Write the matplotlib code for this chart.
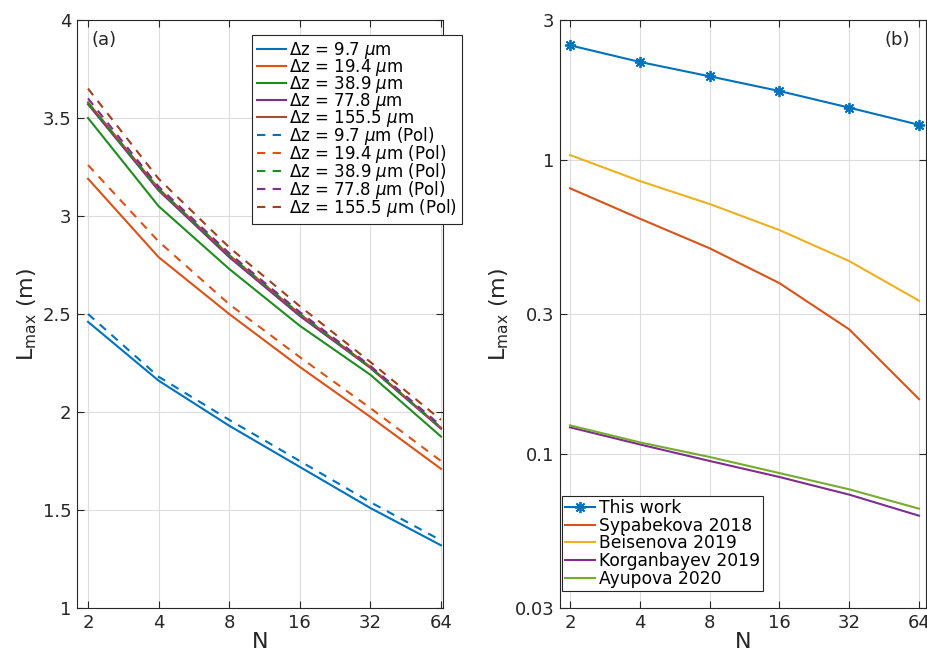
import numpy as np
import matplotlib
matplotlib.use("Agg")
import matplotlib.pyplot as plt
from matplotlib.ticker import FixedLocator, FixedFormatter, NullLocator

plt.rcParams['font.family'] = ['DejaVu Sans']
plt.rcParams['mathtext.fontset'] = 'dejavusans'

# Number of channels
N = [2, 4, 8, 16, 32, 64]
n_ticks = ["2", "4", "8", "16", "32", "64"]

# (a) Maximum length vs N for each spatial resolution
dz_labels = ["9.7", "19.4", "38.9", "77.8", "155.5"]
L_dz_97 = [2.46, 2.16, 1.93, 1.72, 1.51, 1.32]
L_dz_194 = [3.19, 2.79, 2.50, 2.23, 1.975, 1.71]
L_dz_389 = [3.50, 3.05, 2.73, 2.44, 2.19, 1.875]
L_dz_778 = [3.57, 3.13, 2.79, 2.49, 2.225, 1.915]
L_dz_1555 = [3.58, 3.14, 2.80, 2.50, 2.23, 1.92]

L_pol_97 = [2.50, 2.18, 1.96, 1.75, 1.54, 1.345]
L_pol_194 = [3.26, 2.87, 2.55, 2.28, 2.02, 1.75]
L_pol_389 = [3.575, 3.135, 2.80, 2.50, 2.225, 1.92]
L_pol_778 = [3.60, 3.15, 2.81, 2.51, 2.235, 1.93]
L_pol_1555 = [3.65, 3.19, 2.84, 2.54, 2.255, 1.96]

# (b) Comparison with earlier works
L_this_work = L_dz_97
L_sypabekova = [0.803, 0.633, 0.502, 0.382, 0.266, 0.154]
L_beisenova = [1.042, 0.850, 0.710, 0.579, 0.454, 0.333]
L_korganbayev = [0.1235, 0.108, 0.0949, 0.0837, 0.0729, 0.0618]
L_ayupova = [0.1254, 0.1098, 0.0979, 0.0863, 0.0760, 0.0653]
ref_labels = ["This work", "Sypabekova 2018", "Beisenova 2019",
              "Korganbayev 2019", "Ayupova 2020"]

c_blue = "#0072BD"
c_orange = "#D95319"
c_yellow = "#EDB120"
c_purple = "#7E2F8E"
c_lgreen = "#77AC30"
c_green = "#1E8C1E"
c_brown = "#A8502C"
c_brown_d = "#A0401C"
axis_col = "#262626"

fig = plt.figure(figsize=(9.28, 6.57), dpi=100)
ax1 = fig.add_axes([77/928, 49/657, 366/928, 588/657])
ax2 = fig.add_axes([560/928, 49/657, 366/928, 588/657])

lw = 1.5
solid_sets = [(L_dz_97, c_blue), (L_dz_194, c_orange), (L_dz_389, c_green),
              (L_dz_778, c_purple), (L_dz_1555, c_brown)]
dashed_sets = [(L_pol_97, c_blue), (L_pol_194, c_orange), (L_pol_389, c_green),
               (L_pol_778, c_purple), (L_pol_1555, c_brown_d)]

handles = []
for (vals, col), lab in zip(solid_sets, dz_labels):
    h, = ax1.plot(N, vals, color=col, lw=lw,
                  label=r"$\Delta$z = " + lab + r" $\mu$m")
    handles.append(h)
for (vals, col), lab in zip(dashed_sets, dz_labels):
    h, = ax1.plot(N, vals, color=col, lw=lw, ls=(0, (4, 3.5)),
                  label=r"$\Delta$z = " + lab + r" $\mu$m (Pol)")
    handles.append(h)

ax1.set_xscale("log", base=2)
ax1.set_xlim(1.795, 65.3)
ax1.set_ylim(1, 4)
ax1.set_yticks([1, 1.5, 2, 2.5, 3, 3.5, 4])
ax1.set_yticklabels(["1", "1.5", "2", "2.5", "3", "3.5", "4"])
ax1.text(0.04, 0.982, "(a)", transform=ax1.transAxes, fontsize=13,
         va="top", ha="left", color=axis_col)

leg1 = ax1.legend(handles=handles, loc="upper left",
                  bbox_to_anchor=(252/928, 1 - 35/657),
                  bbox_transform=fig.transFigure, fontsize=12,
                  handlelength=1.75, handletextpad=0.2, labelspacing=-0.24,
                  borderpad=0.3, borderaxespad=0, fancybox=False,
                  framealpha=1, edgecolor=axis_col)
leg1.get_frame().set_linewidth(0.8)

ax2.plot(N, L_this_work, color=c_blue, lw=lw, marker=(8, 2, 0), markersize=8,
         markeredgewidth=1.3, label=ref_labels[0])
ax2.plot(N, L_sypabekova, color=c_orange, lw=lw, label=ref_labels[1])
ax2.plot(N, L_beisenova, color=c_yellow, lw=lw, label=ref_labels[2])
ax2.plot(N, L_korganbayev, color=c_purple, lw=lw, label=ref_labels[3])
ax2.plot(N, L_ayupova, color=c_lgreen, lw=lw, label=ref_labels[4])

ax2.set_xscale("log", base=2)
ax2.set_yscale("log")
ax2.set_xlim(1.81, 68.6)
ax2.set_ylim(0.03, 3)
ax2.yaxis.set_major_locator(FixedLocator([0.03, 0.1, 0.3, 1, 3]))
ax2.yaxis.set_major_formatter(FixedFormatter(["0.03", "0.1", "0.3", "1", "3"]))
ax2.yaxis.set_minor_locator(NullLocator())
ax2.text(0.955, 0.982, "(b)", transform=ax2.transAxes, fontsize=13,
         va="top", ha="right", color=axis_col)

leg2 = ax2.legend(loc="lower left", bbox_to_anchor=(562/928, 1 - 591/657),
                  bbox_transform=fig.transFigure, fontsize=12.3,
                  handlelength=1.75, handletextpad=0.2, labelspacing=-0.02,
                  borderpad=0.2, borderaxespad=0, fancybox=False,
                  framealpha=1, edgecolor=axis_col)
leg2.get_frame().set_linewidth(0.8)

for ax in (ax1, ax2):
    ax.xaxis.set_major_locator(FixedLocator(N))
    ax.xaxis.set_major_formatter(FixedFormatter(n_ticks))
    ax.xaxis.set_minor_locator(NullLocator())
    ax.grid(True, color="#dcdcdc", lw=0.8)
    ax.set_axisbelow(True)
    ax.tick_params(which="both", direction="in", top=True, right=True,
                   labelsize=13, colors=axis_col, length=5, width=0.8, pad=4)
    for s in ax.spines.values():
        s.set_color(axis_col)
        s.set_linewidth(0.8)
    ax.set_xlabel("N", fontsize=16, color=axis_col, labelpad=0)
    ax.set_ylabel(r"L$_{\rm max}$ (m)", fontsize=16, color=axis_col, labelpad=3)

fig.savefig("out.png", dpi=100)
